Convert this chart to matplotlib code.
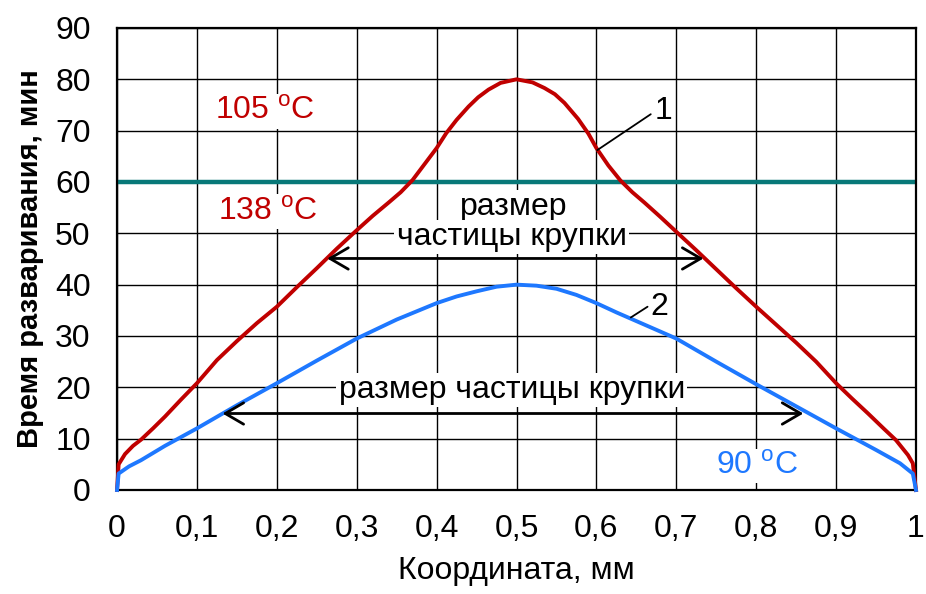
import matplotlib
matplotlib.use("Agg")
import matplotlib.pyplot as plt

plt.rcParams['font.family'] = ['Liberation Sans', 'DejaVu Sans']
plt.rcParams['mathtext.fontset'] = 'custom'
plt.rcParams['mathtext.rm'] = 'Liberation Sans'

# Curve 1 (red): 105 °C / 138 °C
red_x = [0, 0.002, 0.01, 0.02, 0.03, 0.045, 0.06, 0.08, 0.1, 0.125, 0.15, 0.175, 0.2,
         0.225, 0.25, 0.275, 0.3, 0.32, 0.34, 0.355, 0.37, 0.385, 0.4, 0.412, 0.425,
         0.44, 0.452, 0.465, 0.48, 0.5, 0.52, 0.535, 0.548, 0.56, 0.577, 0.59, 0.6,
         0.615, 0.63, 0.645, 0.66, 0.68, 0.7, 0.725, 0.75, 0.775, 0.8, 0.825, 0.85,
         0.875, 0.9, 0.92, 0.94, 0.96, 0.975, 0.99, 0.996, 1.0]
red_y = [0, 5.0, 7.0, 8.6, 9.8, 12.0, 14.3, 17.6, 20.8, 25.3, 29.0, 32.5, 35.7,
         39.5, 43.2, 47.0, 50.6, 53.4, 56.0, 58.0, 60.4, 63.5, 66.6, 69.5, 72.1,
         74.7, 76.5, 78.0, 79.3, 80.0, 79.4, 78.3, 77.1, 75.4, 72.3, 69.4, 66.6,
         63.2, 60.3, 58.0, 56.0, 53.2, 50.3, 46.7, 43.0, 39.3, 35.7, 32.2, 28.7,
         25.0, 20.8, 17.8, 14.9, 11.9, 9.7, 6.8, 5.2, 0]

# Curve 2 (blue): 90 °C
blue_x = [0, 0.002, 0.015, 0.03, 0.06, 0.1, 0.15, 0.2, 0.25, 0.3, 0.35, 0.4, 0.425,
          0.45, 0.475, 0.5, 0.525, 0.55, 0.575, 0.6, 0.625, 0.65, 0.7, 0.75, 0.8,
          0.85, 0.9, 0.95, 0.98, 0.996, 1.0]
blue_y = [0, 3.2, 4.6, 5.8, 8.6, 12.0, 16.5, 20.8, 25.2, 29.5, 33.2, 36.4, 37.7,
          38.7, 39.6, 40.0, 39.8, 39.2, 38.0, 36.4, 34.6, 32.9, 29.5, 25.0, 20.6,
          16.3, 12.0, 7.8, 5.2, 3.2, 0]

level_y = 60

x_ticks = [0, 0.1, 0.2, 0.3, 0.4, 0.5, 0.6, 0.7, 0.8, 0.9, 1.0]
x_tick_labels = ['0', '0,1', '0,2', '0,3', '0,4', '0,5', '0,6', '0,7', '0,8', '0,9', '1']
y_ticks = [0, 10, 20, 30, 40, 50, 60, 70, 80, 90]
y_tick_labels = ['0', '10', '20', '30', '40', '50', '60', '70', '80', '90']

RED = '#C00000'
BLUE = '#1E78FF'
TEAL = '#087878'

fig = plt.figure(figsize=(9.26, 5.94), dpi=100)
ax = fig.add_axes([0.1264, 0.1751, 0.8628, 0.7778])
ax.set_xlim(0, 1)
ax.set_ylim(0, 90)

ax.set_xticks(x_ticks)
ax.set_xticklabels(x_tick_labels)
ax.set_yticks(y_ticks)
ax.set_yticklabels(y_tick_labels)
ax.tick_params(length=0, labelsize=23)
ax.tick_params(axis='x', pad=17)
ax.tick_params(axis='y', pad=19)
ax.grid(True, color='black', lw=1.0, zorder=0)
ax.set_axisbelow(True)
for s in ax.spines.values():
    s.set_linewidth(1.6)
    s.set_color('black')

ax.axhline(level_y, color=TEAL, lw=3.2, zorder=2)
ax.plot(red_x, red_y, color=RED, lw=2.8, zorder=3, clip_on=False, solid_joinstyle='round')
ax.plot(blue_x, blue_y, color=BLUE, lw=2.8, zorder=3, clip_on=False, solid_joinstyle='round')

ax.set_xlabel('Координата, мм', fontsize=23, labelpad=9)
ax.set_ylabel('Время разваривания, мин', fontsize=21, fontweight='bold', labelpad=8)

bb = dict(facecolor='white', edgecolor='none', pad=1.5)
fs = 23
ax.text(0.122, 72.2, '105 $^{\\mathrm{o}}$C', color=RED, fontsize=fs, va='baseline', ha='left', bbox=bb, zorder=4)
ax.text(0.126, 52.7, '138 $^{\\mathrm{o}}$C', color=RED, fontsize=fs, va='baseline', ha='left', bbox=bb, zorder=4)
ax.text(0.75, 3.1, '90 $^{\\mathrm{o}}$C', color=BLUE, fontsize=fs, va='baseline', ha='left', bbox=bb, zorder=4)

ax.text(0.496, 53.6, 'размер', fontsize=fs, va='baseline', ha='center', bbox=bb, zorder=4)
ax.text(0.494, 47.7, 'частицы крупки', fontsize=fs, va='baseline', ha='center', bbox=bb, zorder=4)
ax.text(0.494, 17.9, 'размер частицы крупки', fontsize=fs, va='baseline', ha='center', bbox=bb, zorder=4)

arrow = dict(arrowstyle='<->,head_length=0.6,head_width=0.35', lw=2, color='black',
             mutation_scale=22, shrinkA=0, shrinkB=0)
ax.annotate('', xy=(0.263, 45.1), xytext=(0.734, 45.1), arrowprops=arrow, zorder=5)
ax.annotate('', xy=(0.132, 14.9), xytext=(0.859, 14.9), arrowprops=arrow, zorder=5)

# curve numbers with leader lines
ax.annotate('', xy=(0.601, 66.2), xytext=(0.668, 73.2),
            arrowprops=dict(arrowstyle='-', lw=1.3, color='black', shrinkA=0, shrinkB=0), zorder=5)
ax.text(0.673, 72.3, '1', fontsize=fs, va='baseline', ha='left', zorder=5)
ax.annotate('', xy=(0.643, 33.6), xytext=(0.664, 35.7),
            arrowprops=dict(arrowstyle='-', lw=1.3, color='black', shrinkA=0, shrinkB=0), zorder=5)
ax.text(0.668, 34.1, '2', fontsize=fs, va='baseline', ha='left', zorder=5)

fig.savefig('out.png', dpi=100)
